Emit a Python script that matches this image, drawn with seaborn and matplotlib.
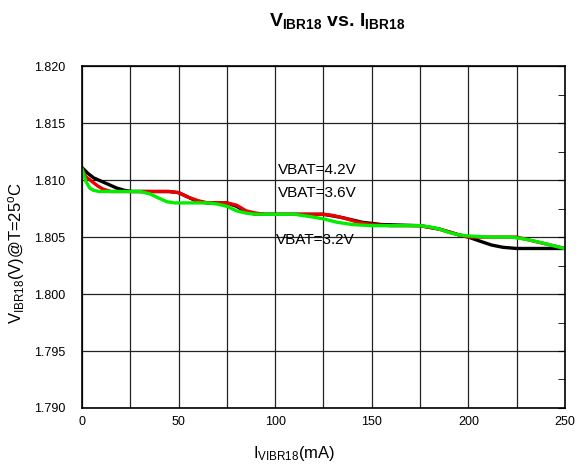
import pandas as pd
import numpy as np
import matplotlib.pyplot as plt
import seaborn as sns
from matplotlib.ticker import MultipleLocator

# readings, per battery voltage
x_42 = [0, 3, 6, 10, 14, 18, 22, 26, 30, 45, 50, 55, 60, 65, 75, 80, 85, 90, 100, 125, 135, 145, 155, 175,
        185, 195, 200, 205, 212, 218, 225, 250]
y_42 = [1.8111, 1.8106, 1.8102, 1.8099, 1.8096, 1.8093, 1.8091, 1.8090, 1.8090, 1.8090, 1.8089, 1.8085,
        1.8081, 1.8080, 1.8080, 1.8077, 1.8072, 1.8070, 1.8070, 1.8070, 1.8067, 1.8063, 1.8061, 1.8060,
        1.8057, 1.8052, 1.8050, 1.8047, 1.8043, 1.8041, 1.8040, 1.8040]

x_36 = [0, 2, 5, 8, 11, 15, 20, 45, 50, 55, 60, 65, 75, 80, 85, 90, 95, 125, 130, 137, 143, 150, 160, 175,
        185, 195, 200, 225, 235, 245, 250]
y_36 = [1.8110, 1.8103, 1.8099, 1.8095, 1.8092, 1.8090, 1.8090, 1.8090, 1.8089, 1.8085, 1.8082, 1.8080,
        1.8080, 1.8078, 1.8073, 1.8071, 1.8070, 1.8070, 1.8069, 1.8066, 1.8063, 1.8061, 1.8060, 1.8060,
        1.8057, 1.8052, 1.8050, 1.8050, 1.8046, 1.8042, 1.8040]

x_32 = [0, 2, 4, 6, 9, 15, 30, 35, 40, 44, 48, 65, 70, 75, 80, 85, 90, 110, 118, 125, 132, 140, 150, 175,
        180, 185, 190, 195, 200, 210, 222, 230, 238, 245, 250]
y_32 = [1.8110, 1.8099, 1.8093, 1.8091, 1.8090, 1.8090, 1.8090, 1.8088, 1.8084, 1.8081, 1.8080, 1.8080,
        1.8079, 1.8077, 1.8073, 1.8071, 1.8070, 1.8070, 1.8068, 1.8066, 1.8063, 1.8061, 1.8060, 1.8060,
        1.8059, 1.8057, 1.8054, 1.8052, 1.8051, 1.8050, 1.8050, 1.8048, 1.8045, 1.8042, 1.8040]

series = ['VBAT=4.2V', 'VBAT=3.6V', 'VBAT=3.2V']
colores = ['#000000', '#ee0000', '#00ee00']

df = pd.concat([
    pd.DataFrame({'I': x_42, 'V': y_42, 'VBAT': series[0]}),
    pd.DataFrame({'I': x_36, 'V': y_36, 'VBAT': series[1]}),
    pd.DataFrame({'I': x_32, 'V': y_32, 'VBAT': series[2]}),
])

sns.set_style('white')
plt.rcParams['font.family'] = ['Liberation Sans', 'DejaVu Sans']
plt.rcParams['mathtext.fontset'] = 'custom'
plt.rcParams['mathtext.rm'] = 'Liberation Sans'
plt.rcParams['mathtext.bf'] = 'Liberation Sans:bold'
plt.rcParams['mathtext.it'] = 'Liberation Sans:italic'
plt.rcParams['text.color'] = 'black'
plt.rcParams['axes.labelcolor'] = 'black'
plt.rcParams['xtick.color'] = 'black'
plt.rcParams['ytick.color'] = 'black'

fig = plt.figure(figsize=(5.79, 4.66), dpi=100)
ax = fig.add_axes([0.1416, 0.1245, 0.8342, 0.7335])

sns.lineplot(data=df, x='I', y='V', hue='VBAT', hue_order=series, palette=colores,
             linewidth=2.4, legend=False, sort=False, ax=ax)

ax.set_xlim(0, 250)
ax.set_ylim(1.790, 1.820)
ax.xaxis.set_major_locator(MultipleLocator(50))
ax.xaxis.set_minor_locator(MultipleLocator(25))
ax.yaxis.set_major_locator(MultipleLocator(0.005))
ax.yaxis.set_minor_locator(MultipleLocator(0.0025))
ax.yaxis.set_major_formatter(plt.FormatStrFormatter('%.3f'))

ax.grid(True, which='major', axis='both', color='#222222', linewidth=0.9)
ax.grid(True, which='minor', axis='x', color='#222222', linewidth=0.9)
ax.set_axisbelow(True)

ax.tick_params(axis='both', which='both', direction='in', labelsize=9, color='black',
               labelcolor='black')
ax.tick_params(axis='y', which='both', right=True, length=5, pad=12)
ax.tick_params(axis='x', which='both', length=0, pad=6)
for s in ax.spines.values():
    s.set_color('black')
    s.set_linewidth(1.2)

ax.set_xlabel(r'I$_{\mathrm{VIBR18}}$(mA)', fontsize=12, color='black')
ax.set_ylabel(r'V$_{\mathrm{IBR18}}$(V)@T=25$^{\mathrm{o}}$C', fontsize=12, color='black')
ax.xaxis.set_label_coords(0.44, -0.105)
ax.yaxis.set_label_coords(-0.114, 0.453)

ax.text(122, 1.8109, 'VBAT=4.2V', fontsize=11, ha='center', va='center', color='black')
ax.text(122, 1.8089, 'VBAT=3.6V', fontsize=11, ha='center', va='center', color='black')
ax.text(121, 1.8047, 'VBAT=3.2V', fontsize=11, ha='center', va='center', color='black')

fig.text(0.582, 0.955, r'$\mathbf{V_{IBR18}}$ vs. $\mathbf{I_{IBR18}}$', fontsize=14,
         fontweight='bold', ha='center', va='center', color='black')

plt.savefig('out.png', dpi=100)
